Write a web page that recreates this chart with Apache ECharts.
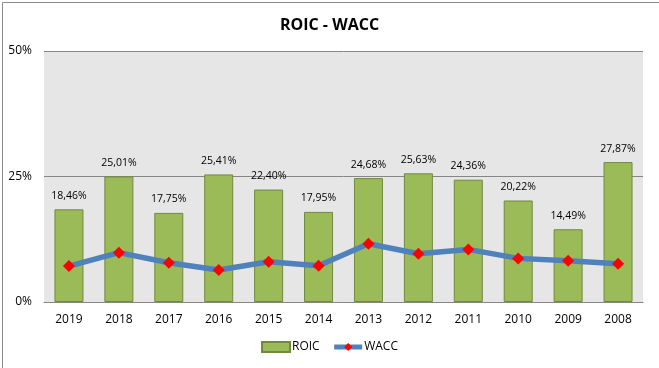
<!DOCTYPE html>
<html><head><meta charset="utf-8">
<script src="https://cdn.jsdelivr.net/npm/echarts@6/dist/echarts.min.js"></script>
<style>html,body{margin:0;padding:0;background:#fff}#c{width:659px;height:368px}</style>
</head><body><div id="c"></div>
<script>
const years = ['2019','2018','2017','2016','2015','2014','2013','2012','2011','2010','2009','2008'];
const roic = [18.46,25.01,17.75,25.41,22.40,17.95,24.68,25.63,24.36,20.22,14.49,27.87];
const wacc = [7.16,9.83,7.83,6.37,8.03,7.23,11.6,9.62,10.48,8.69,8.23,7.63];
const yTicks = [0,25,50];
const FONT = '"Open Sans", "DejaVu Sans", sans-serif';
const chart = echarts.init(document.getElementById('c'));
chart.setOption({
  animation:false,
  textStyle:{fontFamily:FONT},
  title:{text:'ROIC - WACC',left:'center',top:12,textStyle:{fontSize:16,fontWeight:'bold',color:'#000',fontFamily:FONT}},
  graphic:[{type:'rect',left:0,top:0,shape:{x:0.5,y:0.5,width:657,height:366},style:{fill:'none',stroke:'#8c8c8c',lineWidth:1},silent:true,z:-10}],
  grid:{left:44,right:16,top:51,bottom:66,show:true,backgroundColor:'#e6e6e6',borderWidth:0},
  legend:{bottom:10,left:'center',itemGap:12,itemWidth:28,itemHeight:10,textStyle:{fontSize:12,color:'#000',fontFamily:FONT,padding:[0,0,0,-3]},
    data:[{name:'ROIC',icon:'rect'},{name:'WACC',lineStyle:{width:5,color:'#4f81bd'}}]},
  xAxis:{type:'category',data:years,axisTick:{show:false},axisLine:{lineStyle:{color:'#868686'}},axisLabel:{color:'#000',fontSize:12,margin:12}},
  yAxis:{type:'value',min:0,max:50,interval:25,axisLine:{show:false},axisTick:{show:false},
    splitLine:{lineStyle:{color:'#868686',width:1}},
    axisLabel:{color:'#000',fontSize:12,margin:12,formatter:v=>yTicks.includes(v)?v+'%':''}},
  series:[
    {name:'ROIC',type:'bar',data:roic,barWidth:29,itemStyle:{color:'#9bbb59',borderColor:'#71893f',borderWidth:1},
     label:{show:true,position:'top',distance:8,fontSize:10.5,color:'#000',formatter:p=>p.value.toFixed(2).replace('.',',')+'%'}},
    {name:'WACC',type:'line',data:wacc,symbol:'diamond',symbolSize:12,lineStyle:{color:'#4f81bd',width:5.5},itemStyle:{color:'#ff0000'}}
  ]
});
</script></body></html>
